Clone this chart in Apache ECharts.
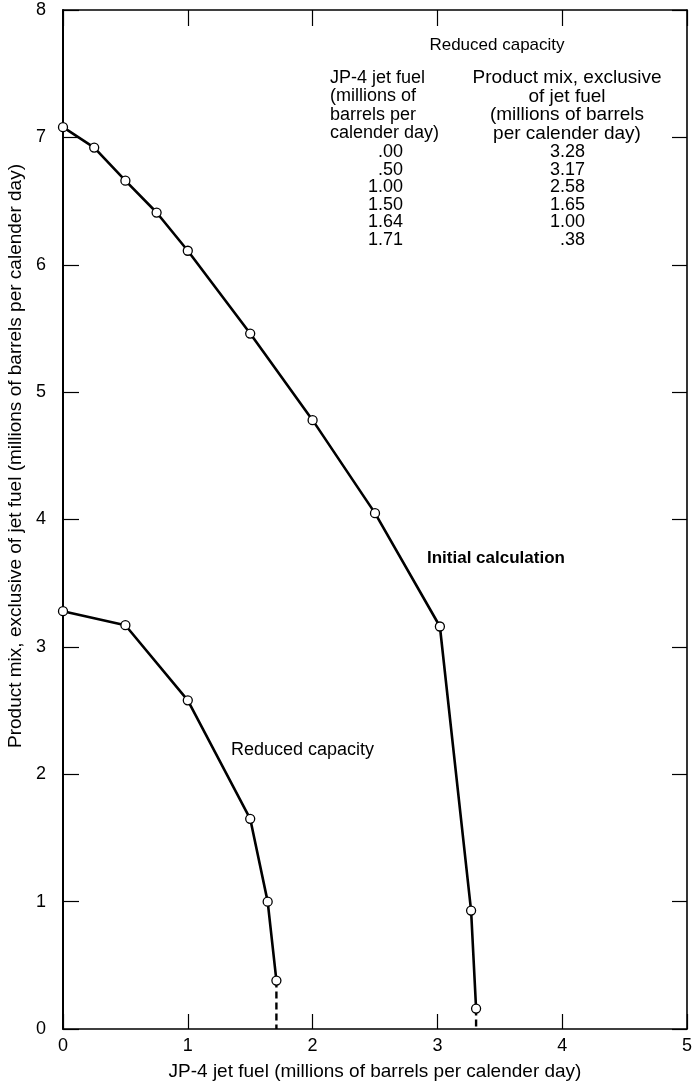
<!DOCTYPE html>
<html>
<head>
<meta charset="utf-8">
<script src="https://cdn.jsdelivr.net/npm/echarts@6/dist/echarts.min.js"></script>
<style>
html,body{margin:0;padding:0;background:#fff;}
#chart{width:695px;height:1086px;}
</style>
</head>
<body>
<div id="chart"></div>
<script>
// ---- data ----
var xTicks = [0, 1, 2, 3, 4, 5];
var yTicks = [0, 1, 2, 3, 4, 5, 6, 7, 8];

var initialX = [0, 0.25, 0.5, 0.75, 1.0, 1.5, 2.0, 2.5, 3.02, 3.27, 3.31];
var initialY = [7.08, 6.92, 6.66, 6.41, 6.11, 5.46, 4.78, 4.05, 3.16, 0.93, 0.16];
var initialDropX = [3.31, 3.31];
var initialDropY = [0.16, 0];

var reducedX = [0, 0.5, 1.0, 1.5, 1.64, 1.71];
var reducedY = [3.28, 3.17, 2.58, 1.65, 1.00, 0.38];
var reducedDropX = [1.71, 1.71];
var reducedDropY = [0.38, 0];

var tableTitle = 'Reduced capacity';
var tableHead1 = ['JP-4 jet fuel', '(millions of', 'barrels per', 'calender day)'];
var tableHead2 = ['Product mix, exclusive', 'of jet fuel', '(millions of barrels', 'per calender day)'];
var tableJet = ['.00', '.50', '1.00', '1.50', '1.64', '1.71'];
var tableMix = ['3.28', '3.17', '2.58', '1.65', '1.00', '.38'];

var xTitle = 'JP-4 jet fuel (millions of barrels per calender day)';
var yTitle = 'Product mix, exclusive of jet fuel (millions of barrels per calender day)';
var labelInitial = 'Initial calculation';
var labelReduced = 'Reduced capacity';

function zip(a, b) { return a.map(function (v, i) { return [v, b[i]]; }); }

var FONT = '"Liberation Sans", Arial, sans-serif';
var chart = echarts.init(document.getElementById('chart'));

function txt(t, x, y, size, align, weight) {
  return {type: 'text', x: x, y: y, silent: true,
    style: {text: t, font: (weight ? weight + ' ' : '') + size + 'px ' + FONT, fill: '#000',
      textAlign: align, textVerticalAlign: 'middle'}};
}

var tableGraphics = [];
tableGraphics.push(txt(tableTitle, 497, 45, 17, 'center'));
tableHead1.forEach(function (t, i) { tableGraphics.push(txt(t, 330, 78 + i * 18.5, 18, 'left')); });
tableHead2.forEach(function (t, i) { tableGraphics.push(txt(t, 567, 78 + i * 18.5, 19, 'center')); });
tableJet.forEach(function (t, i) { tableGraphics.push(txt(t, 403, 152 + i * 17.6, 18, 'right')); });
tableMix.forEach(function (t, i) { tableGraphics.push(txt(t, 585, 152 + i * 17.6, 18, 'right')); });

var lineStyle = {color: '#000', width: 2.6};
var symStyle = {color: '#fff', borderColor: '#000', borderWidth: 1.3};

chart.setOption({
  animation: false,
  backgroundColor: '#fff',
  grid: {left: 63, right: 3, top: 10, bottom: 56, containLabel: false},
  xAxis: [{
    type: 'value', min: 0, max: 5, interval: 1, position: 'bottom',
    name: xTitle, nameLocation: 'middle', nameGap: 33,
    nameTextStyle: {fontFamily: FONT, fontSize: 19, color: '#000'},
    axisLine: {show: true, onZero: false, lineStyle: {color: '#000', width: 1.6}},
    axisTick: {show: true, inside: true, length: 15, lineStyle: {color: '#000', width: 1.2}},
    axisLabel: {show: true, color: '#000', fontFamily: FONT, fontSize: 18, margin: 8,
      formatter: function (v) { return xTicks.indexOf(v) >= 0 ? String(v) : ''; }},
    splitLine: {show: false}
  }, {
    type: 'value', min: 0, max: 5, interval: 1, position: 'top',
    axisLine: {show: true, onZero: false, lineStyle: {color: '#000', width: 1.6}},
    axisTick: {show: true, inside: true, length: 16, lineStyle: {color: '#000', width: 1.2}},
    axisLabel: {show: false}, splitLine: {show: false}
  }],
  yAxis: [{
    type: 'value', min: 0, max: 8, interval: 1, position: 'left',
    axisLine: {show: true, onZero: false, lineStyle: {color: '#000', width: 2}},
    axisTick: {show: true, inside: true, length: 16, lineStyle: {color: '#000', width: 1.2}},
    axisLabel: {show: true, color: '#000', fontFamily: FONT, fontSize: 18, margin: 17,
      formatter: function (v) { return yTicks.indexOf(v) >= 0 ? String(v) : ''; }},
    splitLine: {show: false}
  }, {
    type: 'value', min: 0, max: 8, interval: 1, position: 'right',
    axisLine: {show: true, onZero: false, lineStyle: {color: '#000', width: 1.6}},
    axisTick: {show: true, inside: true, length: 15, lineStyle: {color: '#000', width: 1.2}},
    axisLabel: {show: false}, splitLine: {show: false}
  }],
  graphic: [
    {type: 'text', x: 16, y: 456, rotation: Math.PI / 2, silent: true,
      style: {text: yTitle, font: '19px ' + FONT, fill: '#000', textAlign: 'center', textVerticalAlign: 'middle'}},
    txt(labelInitial, 427, 558, 17, 'left', 'bold'),
    txt(labelReduced, 231, 750, 18, 'left')
  ].concat(tableGraphics),
  series: [{
    type: 'line', data: zip(initialDropX, initialDropY), symbol: 'none',
    lineStyle: {color: '#000', width: 2.4, type: [7, 4]}, z: 1
  }, {
    type: 'line', data: zip(reducedDropX, reducedDropY), symbol: 'none',
    lineStyle: {color: '#000', width: 2.4, type: [7, 4]}, z: 1
  }, {
    type: 'line', data: zip(initialX, initialY), symbol: 'circle', symbolSize: 9,
    lineStyle: lineStyle, itemStyle: symStyle, z: 3
  }, {
    type: 'line', data: zip(reducedX, reducedY), symbol: 'circle', symbolSize: 9,
    lineStyle: lineStyle, itemStyle: symStyle, z: 3
  }]
});
</script>
</body>
</html>
